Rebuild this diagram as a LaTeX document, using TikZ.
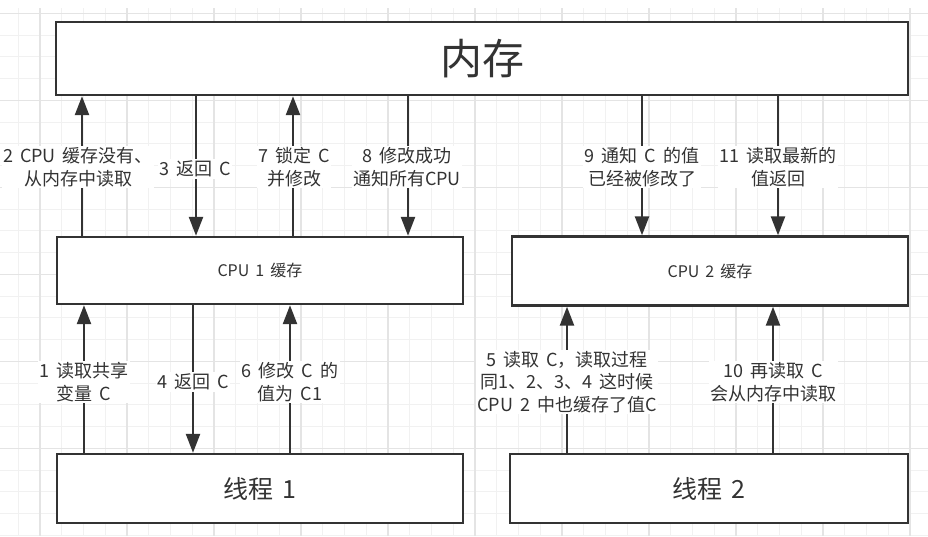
\documentclass[tikz,border=0pt]{standalone}
\usepackage{fontspec}
\setmainfont[WordSpace=1.7]{Noto Sans CJK SC}
\usetikzlibrary{arrows.meta}
\usepackage{xcolor}
\definecolor{ink}{HTML}{333333}
\definecolor{gridlo}{HTML}{F1F1F1}
\definecolor{gridhi}{HTML}{E4E4E4}

\begin{document}
\begin{tikzpicture}[x=1pt,y=-1pt,
  box/.style={draw=ink,line width=2.4pt,fill=white,minimum height=69pt,text=ink,inner sep=0pt},
  flow/.style={draw=ink,line width=2.4pt,-{Triangle[length=19pt,width=14pt]}},
  lbl/.style={fill=white,text=ink,align=center,inner sep=1.5pt,font=\fontsize{18}{22.5}\selectfont}]

  % Background grid
  \useasboundingbox (0,0) rectangle (928,536);
  \fill[white] (0,0) rectangle (928,536);
  \foreach \i in {0,...,43}
    \draw[gridlo,line width=0.9pt] ({-3.5+\i*21.75},8) -- ++(0,528);
  \foreach \j in {0,...,24}
    \draw[gridlo,line width=0.9pt] (0,{13.3+\j*21.75}) -- ++(928,0);
  \foreach \i in {0,...,10}
    \draw[gridhi,line width=1.1pt] ({40+\i*87},8) -- ++(0,528);
  \foreach \j in {0,...,5}
    \draw[gridhi,line width=1.1pt] (0,{13.3+\j*87}) -- ++(928,0);

  % Memory, caches, threads
  \node[box,minimum width=852pt,minimum height=73pt,font=\fontsize{42}{42}\selectfont] (mem) at (482,58.5) {内存};
  \node[box,minimum width=406pt,minimum height=67pt,font=\fontsize{16}{16}\selectfont] (cache1) at (260,270.5) {CPU 1 缓存};
  \node[box,minimum width=396pt,font=\fontsize{16}{16}\selectfont] (cache2) at (710,271) {CPU 2 缓存};
  \node[box,minimum width=406pt,font=\fontsize{25}{25}\selectfont] (thread1) at (260,488.5) {线程 1};
  \node[box,minimum width=398pt,font=\fontsize{25}{25}\selectfont] (thread2) at (709,488.5) {线程 2};

  % Between memory and caches
  \draw[flow] (82,0 |- cache1.north) -- (82,0 |- mem.south);
  \draw[flow] (196,0 |- mem.south) -- (196,0 |- cache1.north);
  \draw[flow] (293,0 |- cache1.north) -- (293,0 |- mem.south);
  \draw[flow] (408,0 |- mem.south) -- (408,0 |- cache1.north);
  \draw[flow] (642,0 |- mem.south) -- (642,0 |- cache2.north);
  \draw[flow] (778,0 |- mem.south) -- (778,0 |- cache2.north);

  % Between caches and threads
  \draw[flow] (84,0 |- thread1.north) -- (84,0 |- cache1.south);
  \draw[flow] (193,0 |- cache1.south) -- (193,0 |- thread1.north);
  \draw[flow] (290,0 |- thread1.north) -- (290,0 |- cache1.south);
  \draw[flow] (567,0 |- thread2.north) -- (567,0 |- cache2.south);
  \draw[flow] (773,0 |- thread2.north) -- (773,0 |- cache2.south);

  % Step labels
  \node[lbl] (s2) at (78,167) {2 CPU 缓存没有、\\从内存中读取};
  \node[lbl] (s3) at (195,169) {3 返回 C};
  \node[lbl] (s7) at (294,167) {7 锁定 C\\并修改};
  \node[lbl] (s8) at (407,167) {8 修改成功\\通知所有CPU};
  \node[lbl] (s9) at (642,167) {9 通知 C 的值\\已经被修改了};
  \node[lbl] (s11) at (778,167) {11 读取最新的\\值返回};
  \node[lbl] (s1) at (84,382) {1 读取共享\\变量 C};
  \node[lbl] (s4) at (193,382) {4 返回 C};
  \node[lbl] (s6) at (290,382) {6 修改 C 的\\值为 C1};
  \node[lbl] (s5) at (567,382) {5 读取 C，读取过程\\同1、2、3、4 这时候\\CPU 2 中也缓存了值C};
  \node[lbl] (s10) at (773,382) {10 再读取 C\\会从内存中读取};

\end{tikzpicture}
\end{document}
